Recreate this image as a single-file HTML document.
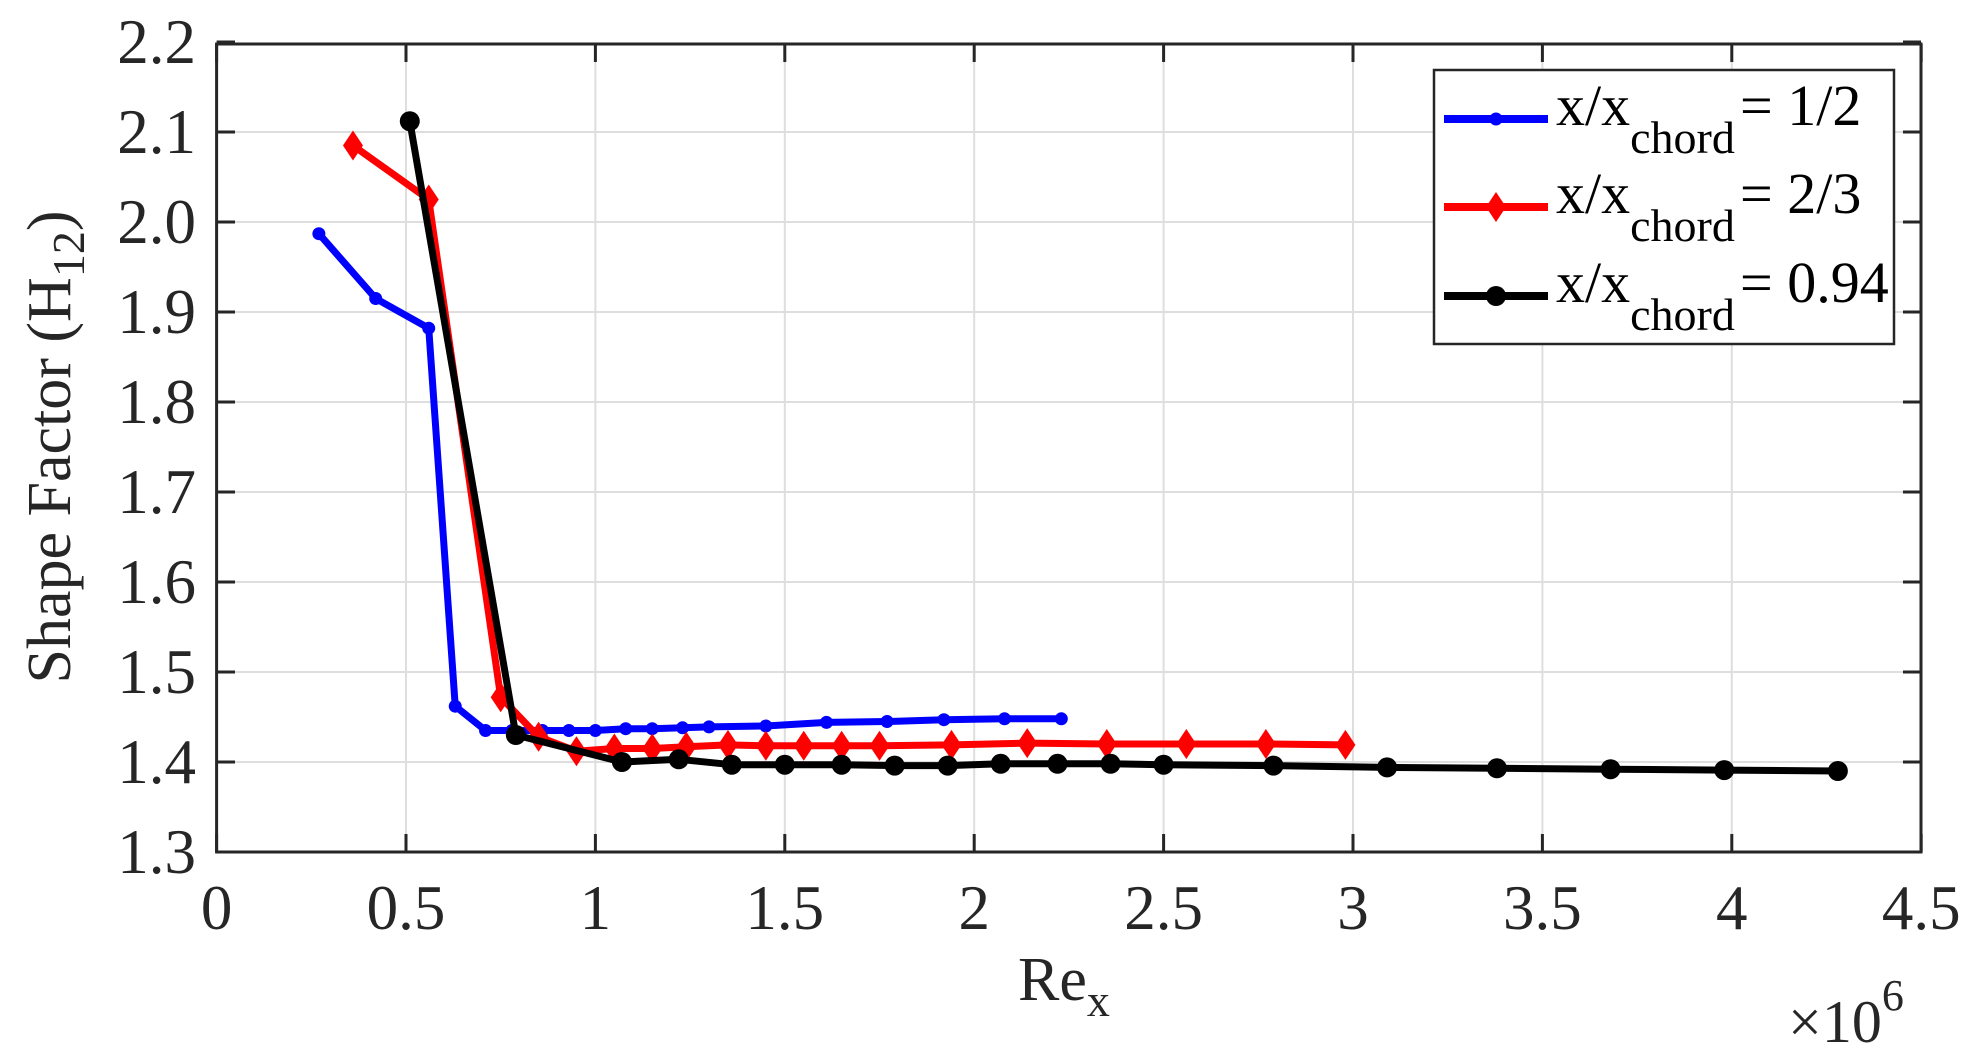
<!DOCTYPE html>
<html><head><meta charset="utf-8"><style>
html,body{margin:0;padding:0;background:#fff;}
svg{display:block;font-family:"Liberation Serif",serif;}
</style></head><body>
<svg id="s" width="1975" height="1052" xmlns="http://www.w3.org/2000/svg">
<rect width="1975" height="1052" fill="#fff"/>
<g id="grid"></g>
<g id="data"></g>
<rect x="216.6" y="44" width="1704.4" height="808" fill="none" stroke="#262626" stroke-width="3"/>
<g id="ticks"></g>
<text x="0" y="0" font-size="62" fill="#262626" text-anchor="middle" transform="translate(70,447) rotate(-90)">Shape Factor (H<tspan font-size="46" dy="14">12</tspan><tspan dy="-14">)</tspan></text>
<text x="1018" y="1000" font-size="62" fill="#262626">Re<tspan font-size="46" dy="16">x</tspan></text>
<text x="1788" y="1042" font-size="60" fill="#262626">×10<tspan font-size="44" dy="-32">6</tspan></text>
<rect x="1434" y="70" width="460" height="274" fill="#fff" stroke="#262626" stroke-width="2.5"/>
<g id="leg"></g>
</svg>
<script>
const NS="http://www.w3.org/2000/svg";
function el(p,t,a,txt){const e=document.createElementNS(NS,t);for(const k in a)e.setAttribute(k,a[k]);if(txt!==undefined)e.textContent=txt;p.appendChild(e);return e;}
const X=v=>216.6+378.8*v, Y=v=>852-900*(v-1.3);
const g=document.getElementById('grid'),tk=document.getElementById('ticks');
for(let i=1;i<9;i++){const x=X(i*0.5);el(g,'line',{x1:x,x2:x,y1:44,y2:852,stroke:'#dedede','stroke-width':2});}
for(let i=1;i<9;i++){const y=Y(1.3+i*0.1);el(g,'line',{x1:216.6,x2:1921,y1:y,y2:y,stroke:'#dedede','stroke-width':2});}
for(let i=0;i<=9;i++){const x=X(i*0.5);
 el(tk,'line',{x1:x,x2:x,y1:852,y2:834,stroke:'#262626','stroke-width':3});
 el(tk,'line',{x1:x,x2:x,y1:44,y2:62,stroke:'#262626','stroke-width':3});
 el(tk,'text',{x:x,y:929,'font-size':63,fill:'#262626','text-anchor':'middle'},['0','0.5','1','1.5','2','2.5','3','3.5','4','4.5'][i]);}
for(let i=0;i<=9;i++){const v=1.3+i*0.1,y=Y(v);
 el(tk,'line',{x1:216.6,x2:235,y1:y,y2:y,stroke:'#262626','stroke-width':3});
 el(tk,'line',{x1:1903,x2:1921,y1:y,y2:y,stroke:'#262626','stroke-width':3});
 el(tk,'text',{x:196,y:y+21,'font-size':63,fill:'#262626','text-anchor':'end'},v.toFixed(1));}
const blue=[[0.27,1.987],[0.42,1.915],[0.56,1.882],[0.63,1.462],[0.71,1.435],[0.78,1.435],[0.86,1.435],[0.93,1.435],[1.0,1.435],[1.08,1.437],[1.15,1.437],[1.23,1.438],[1.3,1.439],[1.45,1.440],[1.61,1.444],[1.77,1.445],[1.92,1.447],[2.08,1.448],[2.23,1.448]];
const red=[[0.36,2.085],[0.56,2.025],[0.75,1.472],[0.85,1.428],[0.95,1.412],[1.05,1.415],[1.15,1.415],[1.24,1.417],[1.35,1.419],[1.45,1.418],[1.55,1.418],[1.65,1.418],[1.75,1.418],[1.94,1.419],[2.14,1.421],[2.35,1.420],[2.56,1.420],[2.77,1.420],[2.98,1.419]];
const black=[[0.51,2.112],[0.79,1.430],[1.07,1.400],[1.22,1.403],[1.36,1.397],[1.50,1.397],[1.65,1.397],[1.79,1.396],[1.93,1.396],[2.07,1.398],[2.22,1.398],[2.36,1.398],[2.50,1.397],[2.79,1.396],[3.09,1.394],[3.38,1.393],[3.68,1.392],[3.98,1.391],[4.28,1.390]];
const d=document.getElementById('data');
function mark(p,type,x,y,c){
 if(type==='dot')el(p,'circle',{cx:x,cy:y,r:6.5,fill:c});
 else if(type==='dia')el(p,'polygon',{points:`${x},${y-15} ${x+10},${y} ${x},${y+15} ${x-10},${y}`,fill:c});
 else el(p,'circle',{cx:x,cy:y,r:10,fill:c});}
function series(data,c,type){
 el(d,'polyline',{points:data.map(p=>X(p[0])+','+Y(p[1])).join(' '),fill:'none',stroke:c,'stroke-width':7,'stroke-linejoin':'round'});
 data.forEach(p=>mark(d,type,X(p[0]),Y(p[1]),c));}
series(blue,'#0000ff','dot');series(red,'#ff0000','dia');series(black,'#000','circ');
const lg=document.getElementById('leg');
[['#0000ff','dot','1/2',119],['#ff0000','dia','2/3',207],['#000','circ','0.94',296]].forEach(r=>{
 el(lg,'line',{x1:1444,x2:1548,y1:r[3],y2:r[3],stroke:r[0],'stroke-width':8});
 mark(lg,r[1],1496,r[3],r[0]);
 const t=el(lg,'text',{x:1556,y:r[3]+6,'font-size':58,fill:'#000'});
 t.textContent='x/x';
 el(t,'tspan',{'font-size':46,dy:28},'chord');
 el(t,'tspan',{dy:-28,x:1740},'= '+r[2]);
});
</script>
</body></html>
